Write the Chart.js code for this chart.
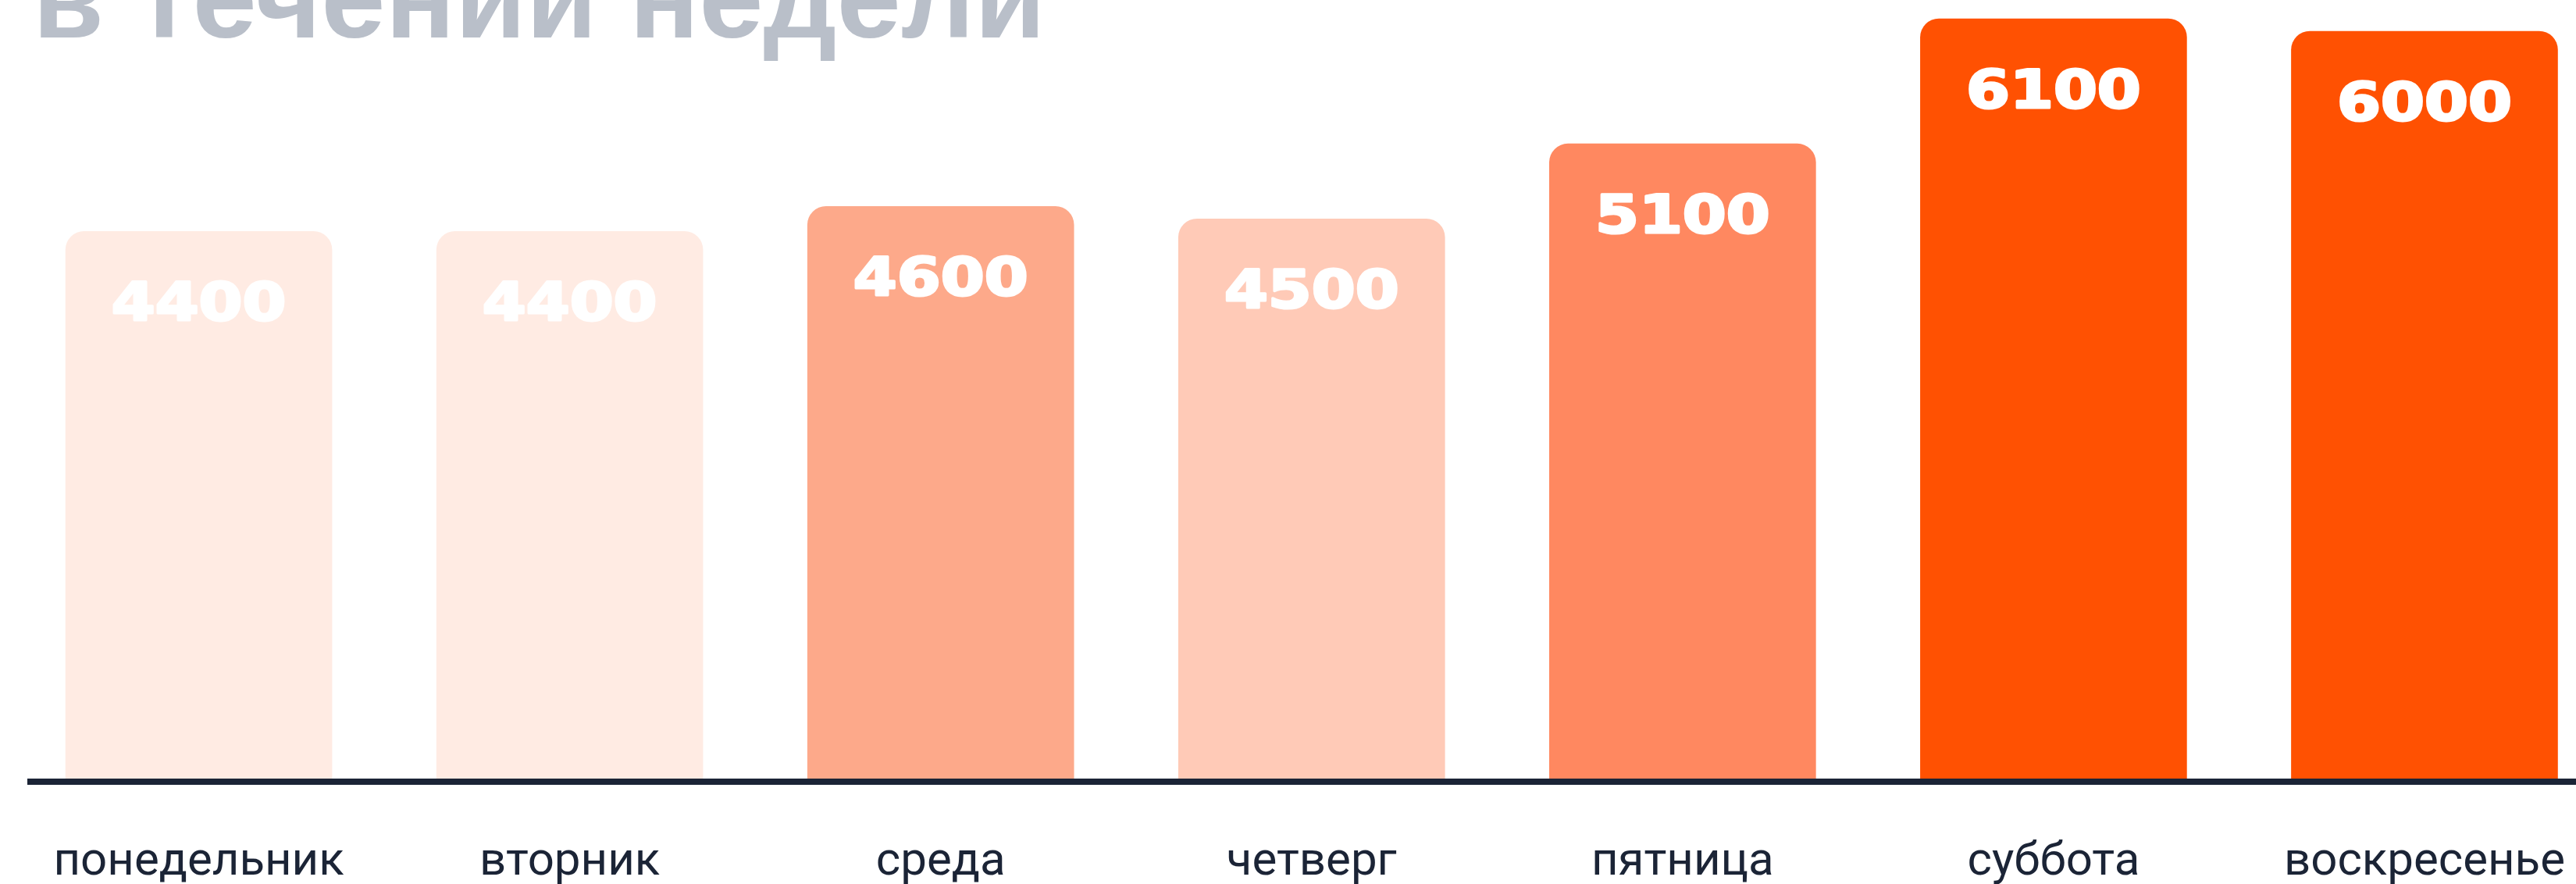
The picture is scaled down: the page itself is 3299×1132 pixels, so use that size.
<!DOCTYPE html>
<html>
<head>
<meta charset="utf-8">
<script src="https://cdn.jsdelivr.net/npm/chart.js@4/dist/chart.umd.min.js"></script>
<style>
  html, body { margin: 0; padding: 0; background: #fff; overflow: hidden; }
  #wrap { position: relative; width: 3299px; height: 1132px; overflow: hidden; }
  #title {
    position: absolute; left: 42px; top: -77px; margin: 0;
    font-family: "Liberation Sans", Arial, sans-serif; font-weight: 700;
    font-size: 148px; line-height: 1; color: #b9bfc9; white-space: nowrap;
  }
  #chart { position: absolute; left: 0; top: 0; }
</style>
</head>
<body>
<div id="wrap">
  <canvas id="chart" width="3353" height="1132"></canvas>
  <h1 id="title">в течении недели</h1>
</div>
<script>
// данные
const days = ['понедельник', 'вторник', 'среда', 'четверг', 'пятница', 'суббота', 'воскресенье'];
const visitors = [4400, 4400, 4600, 4500, 5100, 6100, 6000];
const barColors = ['#ffebe3', '#ffebe3', '#fda98a', '#ffcab7', '#ff8860', '#ff5102', '#ff5102'];

// подписи значений внутри столбцов + линия оси
const valueLabels = {
    id: 'valueLabels',
    afterDatasetsDraw(chart) {
        const ctx = chart.ctx;
        const meta = chart.getDatasetMeta(0);
        ctx.save();
        ctx.fillStyle = '#ffffff';
        ctx.strokeStyle = '#ffffff';
        ctx.lineWidth = 3;
        ctx.lineJoin = 'round';
        ctx.font = 'bold 67px "DejaVu Sans"';
        ctx.textAlign = 'center';
        ctx.textBaseline = 'alphabetic';
        meta.data.forEach((bar, i) => {
            ctx.save();
            ctx.translate(bar.x, bar.y + 114);
            ctx.scale(1.2, 1);
            ctx.fillText(String(visitors[i]), 0, 0);
            ctx.strokeText(String(visitors[i]), 0, 0);
            ctx.restore();
        });
        ctx.restore();

        // ось X
        const y = chart.scales.x.top;
        ctx.save();
        ctx.strokeStyle = '#1b2436';
        ctx.lineWidth = 8;
        ctx.beginPath();
        ctx.moveTo(35, y);
        ctx.lineTo(chart.width, y);
        ctx.stroke();
        ctx.restore();
    }
};

const chart = new Chart(document.getElementById('chart'), {
    type: 'bar',
    data: {
        labels: days,
        datasets: [{
            data: visitors,
            backgroundColor: barColors,
            borderRadius: { topLeft: 24, topRight: 24, bottomLeft: 0, bottomRight: 0 },
            borderSkipped: 'bottom',
            barThickness: 341
        }]
    },
    options: {
        responsive: false,
        animation: false,
        devicePixelRatio: 1,
        layout: { padding: { left: 17, right: 0, top: 0, bottom: 0 } },
        plugins: { legend: { display: false }, tooltip: { enabled: false } },
        scales: {
            x: {
                grid: { display: false, drawTicks: false },
                border: { display: false },
                ticks: {
                    color: '#1b2436',
                    padding: 68,
                    maxRotation: 0,
                    autoSkip: false,
                    font: { family: 'Roboto, sans-serif', size: 60, weight: 400 }
                },
                afterFit(scale) { scale.height = 131; }
            },
            y: {
                display: false,
                min: 0,
                max: 6250
            }
        }
    },
    plugins: [valueLabels]
});
</script>
</body>
</html>
